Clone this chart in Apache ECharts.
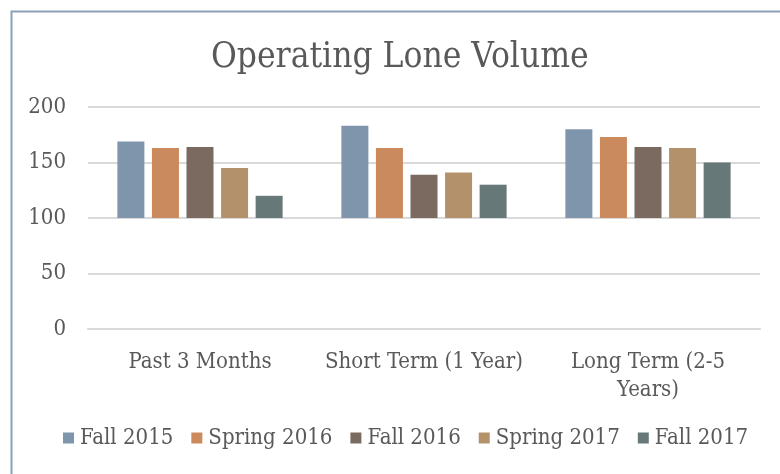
<!DOCTYPE html>
<html>
<head>
<meta charset="utf-8">
<script src="https://cdn.jsdelivr.net/npm/echarts@6/dist/echarts.min.js"></script>
<style>
  html, body { margin: 0; padding: 0; background: #fff; }
  #chart { width: 780px; height: 474px; }
</style>
</head>
<body>
<div id="chart"></div>
<script>
// data
const categories = ['Past 3 Months', 'Short Term (1 Year)', 'Long Term (2-5\nYears)']
const seriesNames = ['Fall 2015', 'Spring 2016', 'Fall 2016', 'Spring 2017', 'Fall 2017']
const fall2015 = [169, 183, 180]
const spring2016 = [163, 163, 173]
const fall2016 = [164, 139, 164]
const spring2017 = [145, 141, 163]
const fall2017 = [120, 130, 150]
const yTicks = [0, 50, 100, 150, 200]
// bars grow from this value (horizontal axis crosses here)
const BASE = 100

const COLORS = ['#7f95ab', '#cb8a5e', '#7a6a5f', '#b3916a', '#667878']
const FONT = '"DejaVu Serif Condensed", "DejaVu Serif", serif'
const TEXT = '#595959'

const allValues = [fall2015, spring2016, fall2016, spring2017, fall2017]

const series = []
allValues.forEach((vals, i) => {
  // invisible part from 0 up to the base value
  series.push({
    type: 'bar',
    stack: 's' + i,
    barWidth: 27,
    barGap: '28%',
    silent: true,
    itemStyle: { color: 'transparent' },
    data: categories.map(() => BASE)
  })
  series.push({
    name: seriesNames[i],
    type: 'bar',
    stack: 's' + i,
    barWidth: 27,
    barGap: '28%',
    itemStyle: { color: COLORS[i] },
    data: vals.map(v => v - BASE)
  })
})

const chart = echarts.init(document.getElementById('chart'))
chart.setOption({
  backgroundColor: '#fff',
  animation: false,
  graphic: [{
    type: 'rect',
    left: 9,
    top: 9,
    shape: { width: 800, height: 500 },
    style: { fill: 'none', stroke: '#8aa0bb', lineWidth: 2 }
  }],
  title: {
    text: 'Operating Lone Volume',
    left: 206,
    top: 35,
    textStyle: { fontFamily: FONT, fontSize: 35, fontWeight: 'normal', color: TEXT }
  },
  legend: {
    data: seriesNames,
    bottom: 20,
    left: 58,
    icon: 'rect',
    itemWidth: 11,
    itemHeight: 11,
    itemGap: 18,
    textStyle: { fontFamily: FONT, fontSize: 22, color: TEXT, padding: [0, 0, 0, 1] }
  },
  grid: {
    left: 88,
    right: 20,
    top: 107,
    bottom: 145,
    containLabel: false
  },
  xAxis: {
    type: 'category',
    data: categories,
    axisTick: { show: false },
    axisLine: { lineStyle: { color: '#d9d9d9', width: 2 } },
    axisLabel: {
      interval: 0,
      fontFamily: FONT,
      fontSize: 22,
      color: TEXT,
      margin: 19,
      lineHeight: 28
    }
  },
  yAxis: {
    type: 'value',
    min: yTicks[0],
    max: yTicks[yTicks.length - 1],
    interval: 50,
    axisLine: { show: false },
    axisTick: { show: false },
    splitLine: { lineStyle: { color: '#d9d9d9', width: 2 } },
    axisLabel: {
      fontFamily: FONT,
      fontSize: 22,
      color: TEXT,
      margin: 22
    }
  },
  series: series
})
</script>
</body>
</html>
